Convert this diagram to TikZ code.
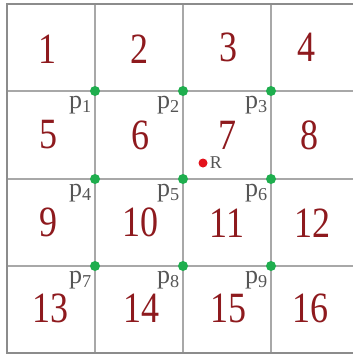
\documentclass[tikz,border=0pt]{standalone}
\usepackage{fontspec}
\setmainfont{Liberation Serif}
\definecolor{numred}{HTML}{8E1A1E}
\definecolor{gridgray}{HTML}{A8A8A8}
\definecolor{bordergray}{HTML}{8C8C8C}
\definecolor{dotgreen}{HTML}{1FAE4E}
\definecolor{dotred}{HTML}{E3121C}
\definecolor{labgray}{HTML}{555555}
\tikzset{
  num/.style={text=numred, font=\fontsize{36}{36}\selectfont, inner sep=0pt},
  gdot/.style={circle, fill=dotgreen, inner sep=0pt, minimum size=10pt},
  rdot/.style={circle, fill=dotred, inner sep=0pt, minimum size=9pt},
  plab/.style={text=labgray, font=\fontsize{26}{26}\selectfont, inner sep=0pt, anchor=north east},
  gline/.style={draw=gridgray, line width=1.3pt},
}
\newcommand{\tallnum}[1]{\scalebox{1}[1.2]{#1}}
\begin{document}
\begin{tikzpicture}[x=1pt,y=-1pt]
\useasboundingbox (0,0) rectangle (353,356);
\fill[white] (0,0) rectangle (353,356);
\begin{scope}
\clip (0,0) rectangle (353,356);
\foreach \x in {95,183,271} \draw[gline] (\x,4) -- (\x,353);
\foreach \y in {91,179,266} \draw[gline] (7,\y) -- (380,\y);
\draw[draw=bordergray, line width=2pt] (380,4) -- (7,4) -- (7,353) -- (380,353);
\end{scope}
% numbers
\node[num] (n1) at (47,49) {\tallnum{1}};
\node[num] (n2) at (139,49) {\tallnum{2}};
\node[num] (n3) at (228,47) {\tallnum{3}};
\node[num] (n4) at (306,47) {\tallnum{4}};
\node[num] (n5) at (48,135) {\tallnum{5}};
\node[num] (n6) at (140,135) {\tallnum{6}};
\node[num] (n7) at (227,135) {\tallnum{7}};
\node[num] (n8) at (309,135) {\tallnum{8}};
\node[num] (n9) at (48,222) {\tallnum{9}};
\node[num] (n10) at (140,222) {\tallnum{10}};
\node[num] (n11) at (227,223) {\tallnum{11}};
\node[num] (n12) at (312,223) {\tallnum{12}};
\node[num] (n13) at (50,308) {\tallnum{13}};
\node[num] (n14) at (141,308) {\tallnum{14}};
\node[num] (n15) at (228,308) {\tallnum{15}};
\node[num] (n16) at (310,308) {\tallnum{16}};
% green points and labels
\foreach \i/\x/\y in {1/95/91,2/183/91,3/271/91,4/95/179,5/183/179,6/271/179,7/95/266,8/183/266,9/271/266}{
  \node[gdot] (p\i) at (\x,\y) {};
  \node[plab] (lp\i) at ([xshift=-3pt,yshift=-5pt]p\i.center) {p\textsubscript{\i}};
}
% red point R
\node[rdot] (R) at (203,163) {};
\node[text=labgray, font=\fontsize{18}{18}\selectfont, anchor=west, inner sep=0pt] (Rlab) at ([xshift=2pt]R.east) {R};
\end{tikzpicture}
\end{document}
